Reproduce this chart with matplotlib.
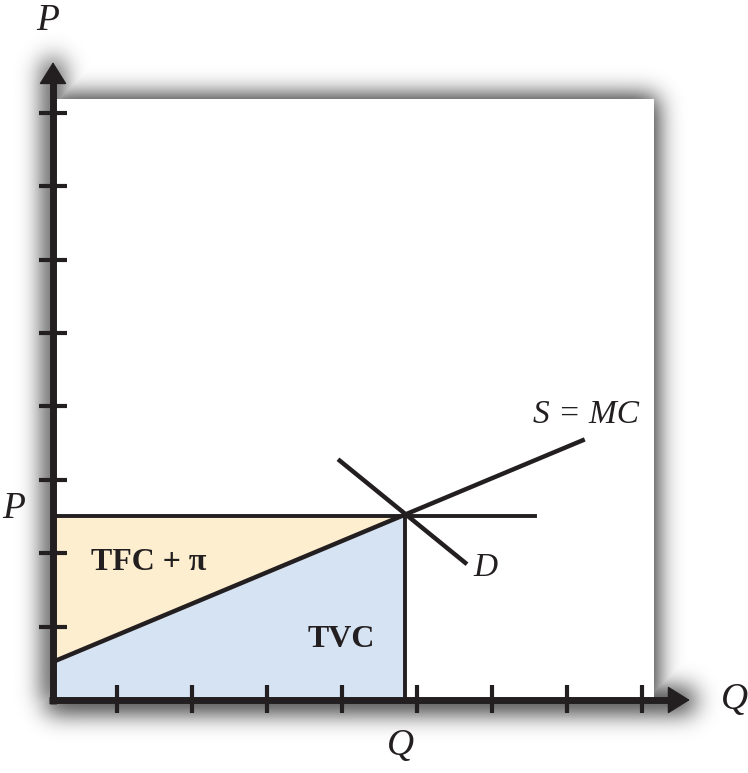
import math
import numpy as np
import matplotlib.pyplot as plt

# curve data (Q, P units, tick spacing = 1)
q_star = 4.69
p_star = 2.51
mc_q = [0.0, 7.09]
mc_p = [0.52, 3.55]
d_q = [3.8, 5.52]
d_p = [3.28, 1.85]
price_end = 6.43
x_ticks = [0.85, 1.85, 2.85, 3.85, 4.85, 5.85, 6.85, 7.85]
y_ticks = [1, 2, 3, 4, 5, 6, 7, 8]

dark = "#231f20"
yellow = "#fdeecf"
blue = "#d5e3f3"

# pixel -> data mapping: origin at (53,700), 75 px per Q unit, 73.4 px per P unit
W, H = 748, 773
ox, oy, sx, sy = 53, 700, 75.0, 73.4
xmin, xmax = -ox / sx, (W - ox) / sx
ymin, ymax = (oy - H) / sy, oy / sy

fig = plt.figure(figsize=(W / 100, H / 100), dpi=100)
ax = fig.add_axes([0, 0, 1, 1])
ax.set_xlim(xmin, xmax)
ax.set_ylim(ymin, ymax)
ax.axis("off")

# soft drop shadow: blurred boxes for the panel and both axis arrows
erf = np.vectorize(math.erf)
xs = np.arange(W) + 0.5
ys = np.arange(H) + 0.5
s = 17.0


def blur_box(l, r, t, b):
    fx = 0.5 * (erf((xs - l) / s) - erf((xs - r) / s))
    fy = 0.5 * (erf((ys - t) / s) - erf((ys - b) / s))
    return fy[:, None] * fx[None, :]


a = np.maximum(blur_box(50, 657, 96, 706), blur_box(44, 62, 60, 706))
a = np.maximum(a, blur_box(46, 694, 689, 712))
shadow = np.zeros((H, W, 4))
shadow[..., 3] = 0.9 * a
ax.imshow(shadow, extent=(xmin, xmax, ymin, ymax), origin="upper", aspect="auto", zorder=0)

panel_w = (654 - ox) / sx
panel_h = (oy - 99) / sy
ax.add_patch(plt.Rectangle((0, 0), panel_w, panel_h, facecolor="white", edgecolor="none", zorder=1))

# shaded areas
qs = np.linspace(0, q_star, 50)
mc_vals = np.interp(qs, mc_q, mc_p)
ax.fill_between(qs, mc_vals, p_star, color=yellow, lw=0, zorder=2)
ax.fill_between(qs, 0, mc_vals, color=blue, lw=0, zorder=2)

# lines
ax.plot([0, price_end], [p_star, p_star], color=dark, lw=2.8, zorder=3)
ax.plot([q_star, q_star], [0, p_star], color=dark, lw=2.8, zorder=3)
ax.plot(mc_q, mc_p, color=dark, lw=3.2, zorder=4, solid_capstyle="butt")
ax.plot(d_q, d_p, color=dark, lw=3.2, zorder=4, solid_capstyle="butt")

# axes with arrows
ax.plot([0, 0], [-0.05, 8.45], color=dark, lw=5, zorder=5, solid_capstyle="butt")
ax.plot([-0.05, 8.25], [0, 0], color=dark, lw=5, zorder=5, solid_capstyle="butt")
head = dict(arrowstyle="-|>,head_length=0.8,head_width=0.5", mutation_scale=18,
            color=dark, lw=1, shrinkA=0, shrinkB=0)
ax.annotate("", xy=(0, 8.69), xytext=(0, 8.2), arrowprops=head, zorder=6)
ax.annotate("", xy=(8.49, 0), xytext=(8.0, 0), arrowprops=head, zorder=6)

# ticks
ax.plot([0] * len(y_ticks), y_ticks, ls="none", marker="_", ms=20, mew=3, color=dark, zorder=6)
ax.plot(x_ticks, [0.02] * len(x_ticks), ls="none", marker="|", ms=20, mew=3, color=dark, zorder=6)

# labels
serif = "Liberation Serif"
ax.text(-0.07, 9.25, "P", fontsize=27, family=serif, style="italic", color=dark, ha="center", va="center")
ax.text(-0.53, 2.6, "P", fontsize=27, family=serif, style="italic", color=dark, ha="center", va="center")
ax.text(9.09, 0.0, "Q", fontsize=27, family=serif, style="italic", color=dark, ha="center", va="center")
ax.text(4.64, -0.62, "Q", fontsize=27, family=serif, style="italic", color=dark, ha="center", va="center")
ax.text(7.11, 3.88, "S = MC", fontsize=24, family=serif, style="italic", color=dark, ha="center", va="center")
ax.text(5.77, 1.8, "D", fontsize=24, family=serif, style="italic", color=dark, ha="center", va="center")
ax.text(1.27, 1.88, "TFC + π", fontsize=23, family=serif, weight="bold", color=dark, ha="center", va="center", zorder=7)
ax.text(3.85, 0.82, "TVC", fontsize=23, family=serif, weight="bold", color=dark, ha="center", va="center", zorder=7)

fig.savefig("out.png", dpi=100)
